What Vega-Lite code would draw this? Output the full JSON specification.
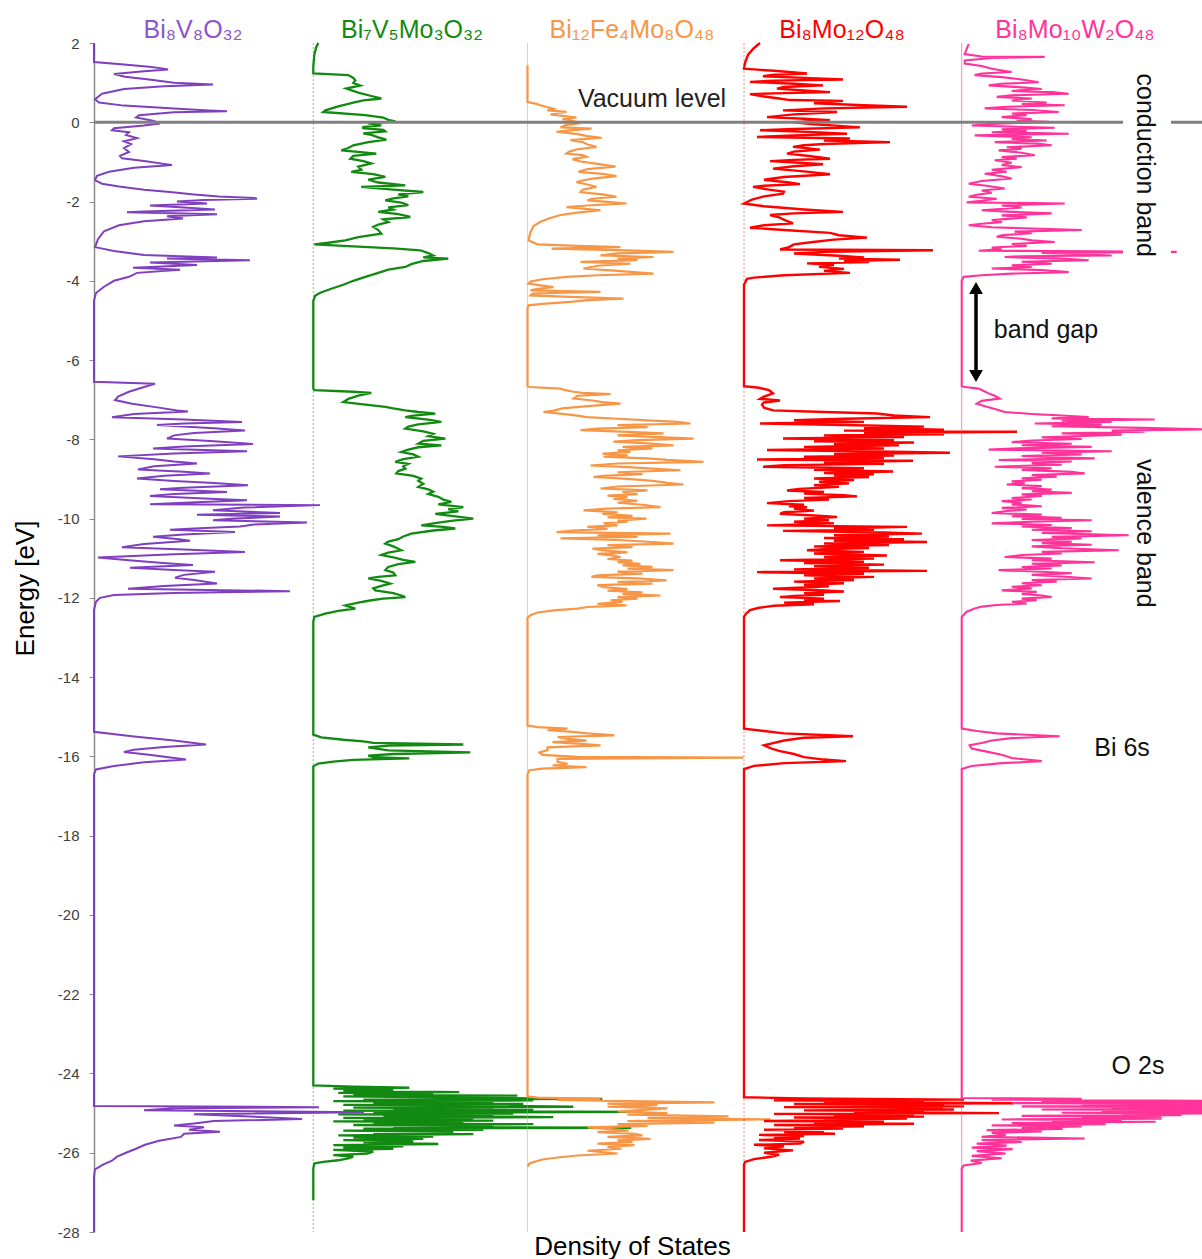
{
  "$schema": "https://vega.github.io/schema/vega-lite/v6.json",
  "width": 1108,
  "height": 1189,
  "autosize": {"type": "none"},
  "padding": {"left": 94, "top": 43, "right": 0, "bottom": 27},
  "background": "white",
  "config": {
    "view": {"stroke": null},
    "font": "Liberation Sans",
    "text": {"font": "Liberation Sans"}
  },
  "datasets": {
    "bi8v8o32": [
      {"e": 2.0, "d": 0}, {"e": 1.52, "d": 0}, {"e": 1.46, "d": 3.0}, {"e": 1.40, "d": 5.5}, {"e": 1.36, "d": 6.8}, {"e": 1.33, "d": 7.4}, {"e": 1.29, "d": 5.0}, {"e": 1.22, "d": 2.0}, {"e": 1.15, "d": 3.1}, {"e": 1.08, "d": 5.5}, {"e": 1.0, "d": 8.0}, {"e": 0.95, "d": 11.9}, {"e": 0.91, "d": 7.0}, {"e": 0.84, "d": 3.0}, {"e": 0.72, "d": 0.8}, {"e": 0.58, "d": 0.1}, {"e": 0.5, "d": 0.5}, {"e": 0.42, "d": 3.0}, {"e": 0.35, "d": 8.0}, {"e": 0.30, "d": 11.5}, {"e": 0.28, "d": 13.3}, {"e": 0.25, "d": 8.0}, {"e": 0.18, "d": 4.5}, {"e": 0.12, "d": 4.2}, {"e": 0.08, "d": 5.0}, {"e": 0.03, "d": 6.0}, {"e": -0.03, "d": 6.6}, {"e": -0.08, "d": 5.0}, {"e": -0.15, "d": 2.0}, {"e": -0.2, "d": 1.8}, {"e": -0.25, "d": 3.5}, {"e": -0.32, "d": 3.2}, {"e": -0.4, "d": 4.3}, {"e": -0.48, "d": 3.0}, {"e": -0.55, "d": 3.7}, {"e": -0.65, "d": 3.0}, {"e": -0.75, "d": 3.5}, {"e": -0.85, "d": 2.6}, {"e": -0.91, "d": 2.8}, {"e": -0.98, "d": 5.0}, {"e": -1.05, "d": 7.0}, {"e": -1.08, "d": 7.8}, {"e": -1.15, "d": 4.0}, {"e": -1.25, "d": 1.5}, {"e": -1.35, "d": 0.3}, {"e": -1.46, "d": 0.1}, {"e": -1.55, "d": 0.8}, {"e": -1.62, "d": 2.5}, {"e": -1.7, "d": 5.0}, {"e": -1.76, "d": 7.6}, {"e": -1.82, "d": 10.0}, {"e": -1.87, "d": 12.5}, {"e": -1.91, "d": 16.0}, {"e": -1.93, "d": 16.3}, {"e": -1.96, "d": 11.0}, {"e": -2.0, "d": 8.3}, {"e": -2.05, "d": 11.3}, {"e": -2.1, "d": 5.6}, {"e": -2.15, "d": 9.0}, {"e": -2.2, "d": 12.1}, {"e": -2.25, "d": 5.0}, {"e": -2.27, "d": 3.3}, {"e": -2.32, "d": 12.3}, {"e": -2.37, "d": 7.3}, {"e": -2.43, "d": 8.9}, {"e": -2.5, "d": 5.0}, {"e": -2.6, "d": 2.5}, {"e": -2.75, "d": 1.0}, {"e": -2.95, "d": 0.4}, {"e": -3.15, "d": 0.1}, {"e": -3.25, "d": 2.0}, {"e": -3.35, "d": 5.0}, {"e": -3.41, "d": 12.3}, {"e": -3.44, "d": 7.3}, {"e": -3.48, "d": 15.6}, {"e": -3.54, "d": 5.6}, {"e": -3.6, "d": 10.3}, {"e": -3.67, "d": 3.9}, {"e": -3.72, "d": 8.6}, {"e": -3.8, "d": 4.3}, {"e": -3.9, "d": 3.5}, {"e": -4.0, "d": 2.0}, {"e": -4.15, "d": 1.0}, {"e": -4.31, "d": 0.2}, {"e": -4.5, "d": 0},
      {"e": -6.55, "d": 0}, {"e": -6.6, "d": 6.1}, {"e": -6.68, "d": 5.0}, {"e": -6.8, "d": 3.5}, {"e": -6.92, "d": 2.4}, {"e": -7.01, "d": 2.1}, {"e": -7.1, "d": 3.8}, {"e": -7.2, "d": 6.5}, {"e": -7.27, "d": 8.3}, {"e": -7.3, "d": 9.4}, {"e": -7.36, "d": 4.0}, {"e": -7.44, "d": 1.8}, {"e": -7.5, "d": 9.0}, {"e": -7.56, "d": 14.8}, {"e": -7.6, "d": 9.0}, {"e": -7.64, "d": 6.3}, {"e": -7.72, "d": 12.0}, {"e": -7.78, "d": 15.1}, {"e": -7.84, "d": 10.0}, {"e": -7.9, "d": 8.0}, {"e": -7.98, "d": 7.3}, {"e": -8.05, "d": 12.0}, {"e": -8.12, "d": 15.9}, {"e": -8.18, "d": 9.0}, {"e": -8.23, "d": 5.9}, {"e": -8.3, "d": 15.3}, {"e": -8.36, "d": 8.0}, {"e": -8.43, "d": 2.4}, {"e": -8.5, "d": 6.0}, {"e": -8.56, "d": 8.0}, {"e": -8.61, "d": 10.3}, {"e": -8.68, "d": 6.0}, {"e": -8.76, "d": 4.4}, {"e": -8.82, "d": 9.0}, {"e": -8.86, "d": 11.6}, {"e": -8.92, "d": 7.0}, {"e": -8.99, "d": 4.3}, {"e": -9.05, "d": 8.0}, {"e": -9.1, "d": 12.0}, {"e": -9.16, "d": 15.4}, {"e": -9.22, "d": 9.0}, {"e": -9.26, "d": 6.6}, {"e": -9.33, "d": 13.3}, {"e": -9.38, "d": 8.0}, {"e": -9.43, "d": 5.6}, {"e": -9.49, "d": 11.0}, {"e": -9.54, "d": 15.3}, {"e": -9.6, "d": 9.0}, {"e": -9.64, "d": 5.6}, {"e": -9.66, "d": 22.6}, {"e": -9.72, "d": 15.0}, {"e": -9.79, "d": 11.9}, {"e": -9.86, "d": 18.6}, {"e": -9.9, "d": 10.3}, {"e": -9.95, "d": 18.6}, {"e": -10.0, "d": 14.0}, {"e": -10.04, "d": 11.9}, {"e": -10.1, "d": 21.3}, {"e": -10.15, "d": 16.0}, {"e": -10.2, "d": 14.6}, {"e": -10.25, "d": 10.0}, {"e": -10.28, "d": 7.6}, {"e": -10.34, "d": 14.1}, {"e": -10.4, "d": 9.0}, {"e": -10.46, "d": 5.9}, {"e": -10.52, "d": 8.5}, {"e": -10.56, "d": 9.6}, {"e": -10.64, "d": 5.0}, {"e": -10.72, "d": 2.8}, {"e": -10.78, "d": 9.0}, {"e": -10.84, "d": 15.1}, {"e": -10.9, "d": 8.0}, {"e": -10.98, "d": 0.4}, {"e": -11.05, "d": 3.5}, {"e": -11.12, "d": 6.9}, {"e": -11.17, "d": 9.9}, {"e": -11.24, "d": 3.6}, {"e": -11.3, "d": 8.0}, {"e": -11.34, "d": 12.1}, {"e": -11.42, "d": 9.0}, {"e": -11.49, "d": 8.1}, {"e": -11.55, "d": 10.0}, {"e": -11.64, "d": 12.3}, {"e": -11.7, "d": 7.0}, {"e": -11.77, "d": 3.4}, {"e": -11.83, "d": 19.6}, {"e": -11.88, "d": 8.0}, {"e": -11.93, "d": 2.0}, {"e": -12.0, "d": 0.6}, {"e": -12.1, "d": 0.2}, {"e": -12.3, "d": 0},
      {"e": -15.38, "d": 0}, {"e": -15.5, "d": 4.0}, {"e": -15.6, "d": 8.0}, {"e": -15.7, "d": 11.2}, {"e": -15.76, "d": 7.0}, {"e": -15.83, "d": 4.0}, {"e": -15.89, "d": 3.0}, {"e": -15.96, "d": 5.5}, {"e": -16.08, "d": 9.2}, {"e": -16.15, "d": 5.0}, {"e": -16.24, "d": 2.0}, {"e": -16.33, "d": 0.2}, {"e": -16.45, "d": 0},
      {"e": -24.82, "d": 0}, {"e": -24.85, "d": 22.5}, {"e": -24.88, "d": 8.0}, {"e": -24.93, "d": 5.0}, {"e": -24.98, "d": 27.0}, {"e": -25.03, "d": 10.0}, {"e": -25.08, "d": 15.0}, {"e": -25.15, "d": 20.8}, {"e": -25.2, "d": 12.0}, {"e": -25.26, "d": 10.0}, {"e": -25.31, "d": 8.0}, {"e": -25.36, "d": 11.0}, {"e": -25.42, "d": 9.5}, {"e": -25.47, "d": 12.6}, {"e": -25.52, "d": 9.0}, {"e": -25.6, "d": 8.7}, {"e": -25.7, "d": 6.5}, {"e": -25.8, "d": 5.1}, {"e": -25.9, "d": 4.2}, {"e": -26.0, "d": 3.2}, {"e": -26.1, "d": 2.3}, {"e": -26.2, "d": 1.8}, {"e": -26.3, "d": 0.9}, {"e": -26.42, "d": 0.1}, {"e": -26.6, "d": 0}, {"e": -28, "d": 0}
    ],
    "bi7v5mo3o32": [
      {"e": 2.0, "d": 0.5}, {"e": 1.9, "d": 0.3}, {"e": 1.7, "d": 0.1}, {"e": 1.4, "d": 0}, {"e": 1.23, "d": 0}, {"e": 1.19, "d": 3.5}, {"e": 1.12, "d": 4.0}, {"e": 1.06, "d": 4.2}, {"e": 0.99, "d": 4.0}, {"e": 0.93, "d": 4.7}, {"e": 0.85, "d": 3.3}, {"e": 0.75, "d": 4.5}, {"e": 0.65, "d": 6.0}, {"e": 0.6, "d": 6.8}, {"e": 0.55, "d": 5.0}, {"e": 0.51, "d": 4.2}, {"e": 0.4, "d": 2.5}, {"e": 0.3, "d": 1.2}, {"e": 0.26, "d": 1.0}, {"e": 0.18, "d": 5.2}, {"e": 0.12, "d": 7.0}, {"e": 0.06, "d": 7.5}, {"e": 0.02, "d": 8.2}, {"e": -0.03, "d": 5.5}, {"e": -0.08, "d": 6.8}, {"e": -0.12, "d": 5.0}, {"e": -0.15, "d": 5.0}, {"e": -0.19, "d": 7.0}, {"e": -0.23, "d": 7.2}, {"e": -0.28, "d": 5.0}, {"e": -0.32, "d": 5.8}, {"e": -0.38, "d": 6.5}, {"e": -0.44, "d": 7.3}, {"e": -0.5, "d": 5.5}, {"e": -0.58, "d": 4.0}, {"e": -0.65, "d": 3.5}, {"e": -0.71, "d": 2.8}, {"e": -0.76, "d": 5.0}, {"e": -0.79, "d": 6.3}, {"e": -0.85, "d": 4.0}, {"e": -0.92, "d": 3.7}, {"e": -0.98, "d": 5.0}, {"e": -1.04, "d": 5.8}, {"e": -1.12, "d": 4.5}, {"e": -1.2, "d": 4.8}, {"e": -1.25, "d": 3.8}, {"e": -1.31, "d": 6.0}, {"e": -1.38, "d": 7.2}, {"e": -1.45, "d": 5.5}, {"e": -1.52, "d": 6.5}, {"e": -1.59, "d": 9.2}, {"e": -1.63, "d": 4.8}, {"e": -1.7, "d": 8.0}, {"e": -1.76, "d": 11.0}, {"e": -1.82, "d": 8.5}, {"e": -1.87, "d": 9.5}, {"e": -1.92, "d": 8.0}, {"e": -1.97, "d": 7.2}, {"e": -2.03, "d": 8.8}, {"e": -2.09, "d": 9.5}, {"e": -2.15, "d": 7.5}, {"e": -2.2, "d": 8.0}, {"e": -2.26, "d": 6.5}, {"e": -2.32, "d": 8.5}, {"e": -2.39, "d": 9.7}, {"e": -2.45, "d": 7.0}, {"e": -2.52, "d": 7.5}, {"e": -2.58, "d": 6.5}, {"e": -2.64, "d": 6.0}, {"e": -2.72, "d": 6.5}, {"e": -2.81, "d": 6.8}, {"e": -2.9, "d": 4.5}, {"e": -2.98, "d": 3.2}, {"e": -3.04, "d": 1.5}, {"e": -3.08, "d": 0.1}, {"e": -3.12, "d": 3.0}, {"e": -3.18, "d": 8.0}, {"e": -3.23, "d": 10.7}, {"e": -3.3, "d": 11.5}, {"e": -3.36, "d": 12.0}, {"e": -3.41, "d": 11.0}, {"e": -3.44, "d": 13.5}, {"e": -3.5, "d": 11.0}, {"e": -3.58, "d": 9.8}, {"e": -3.65, "d": 9.2}, {"e": -3.72, "d": 7.5}, {"e": -3.8, "d": 6.5}, {"e": -3.9, "d": 5.2}, {"e": -4.0, "d": 4.0}, {"e": -4.1, "d": 3.0}, {"e": -4.2, "d": 1.8}, {"e": -4.3, "d": 0.7}, {"e": -4.37, "d": 0.2}, {"e": -4.5, "d": 0},
      {"e": -6.72, "d": 0}, {"e": -6.76, "d": 0.1}, {"e": -6.8, "d": 4.0}, {"e": -6.83, "d": 5.8}, {"e": -6.9, "d": 4.5}, {"e": -6.98, "d": 3.5}, {"e": -7.06, "d": 3.0}, {"e": -7.12, "d": 5.0}, {"e": -7.18, "d": 7.2}, {"e": -7.22, "d": 8.0}, {"e": -7.27, "d": 9.2}, {"e": -7.31, "d": 10.5}, {"e": -7.35, "d": 12.2}, {"e": -7.4, "d": 10.0}, {"e": -7.44, "d": 9.2}, {"e": -7.5, "d": 11.5}, {"e": -7.56, "d": 12.8}, {"e": -7.62, "d": 10.5}, {"e": -7.68, "d": 9.5}, {"e": -7.73, "d": 9.2}, {"e": -7.8, "d": 11.0}, {"e": -7.86, "d": 12.0}, {"e": -7.92, "d": 11.5}, {"e": -7.98, "d": 13.2}, {"e": -8.04, "d": 11.0}, {"e": -8.11, "d": 10.5}, {"e": -8.15, "d": 12.8}, {"e": -8.2, "d": 10.5}, {"e": -8.26, "d": 9.5}, {"e": -8.32, "d": 8.8}, {"e": -8.38, "d": 10.0}, {"e": -8.44, "d": 10.5}, {"e": -8.5, "d": 9.0}, {"e": -8.57, "d": 8.2}, {"e": -8.62, "d": 9.5}, {"e": -8.68, "d": 9.0}, {"e": -8.74, "d": 9.2}, {"e": -8.8, "d": 8.5}, {"e": -8.86, "d": 8.3}, {"e": -8.92, "d": 10.0}, {"e": -8.99, "d": 10.8}, {"e": -9.05, "d": 10.5}, {"e": -9.12, "d": 11.0}, {"e": -9.2, "d": 10.5}, {"e": -9.26, "d": 11.5}, {"e": -9.32, "d": 12.0}, {"e": -9.38, "d": 11.5}, {"e": -9.45, "d": 12.5}, {"e": -9.52, "d": 13.0}, {"e": -9.58, "d": 13.8}, {"e": -9.64, "d": 12.5}, {"e": -9.71, "d": 15.0}, {"e": -9.76, "d": 13.5}, {"e": -9.82, "d": 14.5}, {"e": -9.88, "d": 12.2}, {"e": -9.94, "d": 14.0}, {"e": -10.0, "d": 16.0}, {"e": -10.05, "d": 14.0}, {"e": -10.1, "d": 12.5}, {"e": -10.17, "d": 10.8}, {"e": -10.21, "d": 13.0}, {"e": -10.25, "d": 14.2}, {"e": -10.3, "d": 12.0}, {"e": -10.38, "d": 9.8}, {"e": -10.45, "d": 9.0}, {"e": -10.52, "d": 8.5}, {"e": -10.58, "d": 7.5}, {"e": -10.63, "d": 7.2}, {"e": -10.7, "d": 8.0}, {"e": -10.76, "d": 8.5}, {"e": -10.8, "d": 8.8}, {"e": -10.86, "d": 7.5}, {"e": -10.92, "d": 6.8}, {"e": -10.98, "d": 8.0}, {"e": -11.04, "d": 9.0}, {"e": -11.09, "d": 10.2}, {"e": -11.15, "d": 8.5}, {"e": -11.22, "d": 7.5}, {"e": -11.3, "d": 7.2}, {"e": -11.36, "d": 8.0}, {"e": -11.43, "d": 8.2}, {"e": -11.47, "d": 6.5}, {"e": -11.51, "d": 5.5}, {"e": -11.57, "d": 6.8}, {"e": -11.64, "d": 7.7}, {"e": -11.7, "d": 6.8}, {"e": -11.76, "d": 6.0}, {"e": -11.81, "d": 6.2}, {"e": -11.88, "d": 8.0}, {"e": -11.94, "d": 8.8}, {"e": -11.98, "d": 9.2}, {"e": -12.02, "d": 7.0}, {"e": -12.06, "d": 5.8}, {"e": -12.12, "d": 4.5}, {"e": -12.19, "d": 3.2}, {"e": -12.27, "d": 4.2}, {"e": -12.33, "d": 2.5}, {"e": -12.4, "d": 1.2}, {"e": -12.48, "d": 0.1}, {"e": -12.6, "d": 0},
      {"e": -15.45, "d": 0}, {"e": -15.52, "d": 0.8}, {"e": -15.58, "d": 3.0}, {"e": -15.62, "d": 5.0}, {"e": -15.66, "d": 6.0}, {"e": -15.7, "d": 15.0}, {"e": -15.73, "d": 7.5}, {"e": -15.77, "d": 5.5}, {"e": -15.81, "d": 6.5}, {"e": -15.85, "d": 7.5}, {"e": -15.9, "d": 15.7}, {"e": -15.94, "d": 8.0}, {"e": -15.98, "d": 5.5}, {"e": -16.02, "d": 6.0}, {"e": -16.05, "d": 9.6}, {"e": -16.09, "d": 4.0}, {"e": -16.13, "d": 2.0}, {"e": -16.18, "d": 0.5}, {"e": -16.25, "d": 0},
      {"e": -24.3, "d": 0}, {"e": -24.33, "d": 4.0}, {"e": -24.36, "d": 9.6}, {"e": -24.38, "d": 2.0}, {"e": -24.41, "d": 8.0}, {"e": -24.44, "d": 3.0}, {"e": -24.47, "d": 14.6}, {"e": -24.49, "d": 2.5}, {"e": -24.52, "d": 12.0}, {"e": -24.54, "d": 4.0}, {"e": -24.56, "d": 20.4}, {"e": -24.58, "d": 3.0}, {"e": -24.61, "d": 15.0}, {"e": -24.64, "d": 28.9}, {"e": -24.66, "d": 5.0}, {"e": -24.68, "d": 22.0}, {"e": -24.7, "d": 2.0}, {"e": -24.72, "d": 18.0}, {"e": -24.74, "d": 6.0}, {"e": -24.77, "d": 21.0}, {"e": -24.79, "d": 3.0}, {"e": -24.81, "d": 17.0}, {"e": -24.84, "d": 26.0}, {"e": -24.86, "d": 4.0}, {"e": -24.88, "d": 18.0}, {"e": -24.9, "d": 8.0}, {"e": -24.92, "d": 22.0}, {"e": -24.94, "d": 3.0}, {"e": -24.97, "d": 32.5}, {"e": -24.99, "d": 6.0}, {"e": -25.01, "d": 20.0}, {"e": -25.03, "d": 2.5}, {"e": -25.05, "d": 18.0}, {"e": -25.07, "d": 7.0}, {"e": -25.1, "d": 24.0}, {"e": -25.12, "d": 3.0}, {"e": -25.14, "d": 16.0}, {"e": -25.16, "d": 5.0}, {"e": -25.19, "d": 18.0}, {"e": -25.21, "d": 2.0}, {"e": -25.23, "d": 15.0}, {"e": -25.26, "d": 6.0}, {"e": -25.28, "d": 22.0}, {"e": -25.3, "d": 4.0}, {"e": -25.33, "d": 18.0}, {"e": -25.35, "d": 8.0}, {"e": -25.37, "d": 31.8}, {"e": -25.39, "d": 5.0}, {"e": -25.42, "d": 17.0}, {"e": -25.44, "d": 3.0}, {"e": -25.47, "d": 14.0}, {"e": -25.5, "d": 6.0}, {"e": -25.53, "d": 16.0}, {"e": -25.56, "d": 2.5}, {"e": -25.59, "d": 12.0}, {"e": -25.62, "d": 4.0}, {"e": -25.65, "d": 11.0}, {"e": -25.68, "d": 3.0}, {"e": -25.71, "d": 10.0}, {"e": -25.74, "d": 5.0}, {"e": -25.78, "d": 12.5}, {"e": -25.81, "d": 2.0}, {"e": -25.84, "d": 9.0}, {"e": -25.87, "d": 3.0}, {"e": -25.9, "d": 8.0}, {"e": -25.93, "d": 2.0}, {"e": -25.97, "d": 6.0}, {"e": -26.02, "d": 5.4}, {"e": -26.06, "d": 2.0}, {"e": -26.1, "d": 4.0}, {"e": -26.14, "d": 3.5}, {"e": -26.19, "d": 2.5}, {"e": -26.23, "d": 1.0}, {"e": -26.27, "d": 0.1}, {"e": -26.4, "d": 0}, {"e": -27.2, "d": 0}
    ],
    "bi12fe4mo8o48": [
      {"e": 1.44, "d": 0}, {"e": 0.51, "d": 0}, {"e": 0.47, "d": 0.8}, {"e": 0.43, "d": 1.3}, {"e": 0.38, "d": 2.0}, {"e": 0.34, "d": 2.6}, {"e": 0.3, "d": 2.0}, {"e": 0.26, "d": 3.9}, {"e": 0.2, "d": 2.3}, {"e": 0.16, "d": 3.5}, {"e": 0.12, "d": 4.9}, {"e": 0.08, "d": 3.5}, {"e": 0.05, "d": 4.3}, {"e": -0.02, "d": 5.3}, {"e": -0.07, "d": 3.8}, {"e": -0.13, "d": 3.3}, {"e": -0.16, "d": 6.4}, {"e": -0.2, "d": 4.5}, {"e": -0.24, "d": 2.9}, {"e": -0.3, "d": 5.0}, {"e": -0.35, "d": 6.0}, {"e": -0.39, "d": 7.4}, {"e": -0.45, "d": 4.3}, {"e": -0.5, "d": 5.5}, {"e": -0.56, "d": 6.0}, {"e": -0.62, "d": 6.9}, {"e": -0.68, "d": 5.0}, {"e": -0.74, "d": 4.2}, {"e": -0.79, "d": 3.9}, {"e": -0.83, "d": 5.5}, {"e": -0.87, "d": 5.9}, {"e": -0.93, "d": 4.5}, {"e": -0.99, "d": 5.3}, {"e": -1.05, "d": 7.0}, {"e": -1.12, "d": 8.8}, {"e": -1.18, "d": 6.0}, {"e": -1.25, "d": 5.1}, {"e": -1.3, "d": 7.5}, {"e": -1.36, "d": 8.9}, {"e": -1.42, "d": 6.5}, {"e": -1.47, "d": 5.5}, {"e": -1.51, "d": 4.9}, {"e": -1.57, "d": 6.0}, {"e": -1.63, "d": 6.9}, {"e": -1.7, "d": 5.5}, {"e": -1.76, "d": 5.3}, {"e": -1.82, "d": 7.5}, {"e": -1.88, "d": 8.9}, {"e": -1.93, "d": 6.5}, {"e": -1.97, "d": 6.0}, {"e": -2.01, "d": 8.0}, {"e": -2.05, "d": 9.9}, {"e": -2.1, "d": 6.0}, {"e": -2.14, "d": 3.9}, {"e": -2.18, "d": 5.5}, {"e": -2.22, "d": 7.3}, {"e": -2.28, "d": 5.0}, {"e": -2.34, "d": 3.3}, {"e": -2.42, "d": 2.2}, {"e": -2.51, "d": 1.3}, {"e": -2.62, "d": 0.6}, {"e": -2.77, "d": 0.3}, {"e": -2.98, "d": 0.1}, {"e": -3.08, "d": 1.0}, {"e": -3.12, "d": 5.0}, {"e": -3.15, "d": 9.3}, {"e": -3.19, "d": 2.4}, {"e": -3.23, "d": 10.0}, {"e": -3.27, "d": 14.6}, {"e": -3.31, "d": 9.0}, {"e": -3.36, "d": 7.3}, {"e": -3.4, "d": 12.6}, {"e": -3.44, "d": 9.0}, {"e": -3.48, "d": 11.0}, {"e": -3.52, "d": 5.3}, {"e": -3.57, "d": 10.3}, {"e": -3.62, "d": 7.0}, {"e": -3.69, "d": 5.6}, {"e": -3.75, "d": 9.0}, {"e": -3.82, "d": 12.6}, {"e": -3.86, "d": 7.0}, {"e": -3.9, "d": 3.9}, {"e": -3.96, "d": 1.5}, {"e": -4.02, "d": 0.3}, {"e": -4.07, "d": 0.1}, {"e": -4.12, "d": 1.5}, {"e": -4.16, "d": 2.6}, {"e": -4.2, "d": 1.0}, {"e": -4.24, "d": 0.3}, {"e": -4.28, "d": 7.3}, {"e": -4.32, "d": 0.5}, {"e": -4.37, "d": 0.3}, {"e": -4.41, "d": 5.0}, {"e": -4.45, "d": 9.6}, {"e": -4.49, "d": 6.0}, {"e": -4.53, "d": 4.3}, {"e": -4.58, "d": 1.5}, {"e": -4.62, "d": 0.1}, {"e": -4.7, "d": 0},
      {"e": -6.66, "d": 0}, {"e": -6.68, "d": 0.2}, {"e": -6.72, "d": 3.3}, {"e": -6.76, "d": 3.8}, {"e": -6.8, "d": 4.6}, {"e": -6.83, "d": 5.5}, {"e": -6.86, "d": 8.3}, {"e": -6.9, "d": 5.0}, {"e": -6.97, "d": 4.6}, {"e": -7.02, "d": 6.5}, {"e": -7.06, "d": 7.5}, {"e": -7.1, "d": 9.3}, {"e": -7.16, "d": 6.0}, {"e": -7.22, "d": 3.5}, {"e": -7.28, "d": 2.5}, {"e": -7.31, "d": 1.6}, {"e": -7.36, "d": 3.5}, {"e": -7.4, "d": 5.0}, {"e": -7.44, "d": 5.9}, {"e": -7.48, "d": 9.0}, {"e": -7.52, "d": 12.0}, {"e": -7.56, "d": 15.0}, {"e": -7.6, "d": 16.3}, {"e": -7.64, "d": 9.0}, {"e": -7.69, "d": 12.0}, {"e": -7.73, "d": 7.0}, {"e": -7.77, "d": 5.3}, {"e": -7.81, "d": 10.0}, {"e": -7.85, "d": 13.6}, {"e": -7.9, "d": 9.0}, {"e": -7.94, "d": 12.5}, {"e": -7.98, "d": 16.6}, {"e": -8.02, "d": 11.0}, {"e": -8.06, "d": 8.6}, {"e": -8.1, "d": 12.0}, {"e": -8.15, "d": 14.6}, {"e": -8.19, "d": 9.5}, {"e": -8.23, "d": 12.5}, {"e": -8.28, "d": 9.0}, {"e": -8.32, "d": 10.3}, {"e": -8.36, "d": 7.5}, {"e": -8.4, "d": 10.0}, {"e": -8.44, "d": 7.6}, {"e": -8.48, "d": 12.0}, {"e": -8.52, "d": 14.0}, {"e": -8.57, "d": 17.6}, {"e": -8.61, "d": 9.0}, {"e": -8.66, "d": 6.3}, {"e": -8.7, "d": 10.0}, {"e": -8.74, "d": 12.5}, {"e": -8.78, "d": 15.3}, {"e": -8.83, "d": 9.0}, {"e": -8.88, "d": 11.5}, {"e": -8.92, "d": 7.5}, {"e": -8.95, "d": 6.6}, {"e": -9.0, "d": 10.0}, {"e": -9.05, "d": 12.5}, {"e": -9.1, "d": 14.0}, {"e": -9.14, "d": 15.6}, {"e": -9.19, "d": 9.0}, {"e": -9.24, "d": 7.3}, {"e": -9.29, "d": 12.0}, {"e": -9.33, "d": 9.5}, {"e": -9.38, "d": 11.0}, {"e": -9.42, "d": 8.0}, {"e": -9.46, "d": 10.0}, {"e": -9.5, "d": 8.6}, {"e": -9.55, "d": 11.0}, {"e": -9.6, "d": 9.0}, {"e": -9.65, "d": 11.5}, {"e": -9.71, "d": 13.3}, {"e": -9.75, "d": 8.0}, {"e": -9.79, "d": 5.6}, {"e": -9.84, "d": 9.0}, {"e": -9.88, "d": 7.5}, {"e": -9.93, "d": 10.5}, {"e": -9.97, "d": 8.0}, {"e": -10.0, "d": 11.9}, {"e": -10.05, "d": 9.0}, {"e": -10.08, "d": 10.0}, {"e": -10.12, "d": 7.6}, {"e": -10.17, "d": 9.0}, {"e": -10.21, "d": 6.0}, {"e": -10.26, "d": 8.0}, {"e": -10.3, "d": 4.5}, {"e": -10.34, "d": 2.9}, {"e": -10.38, "d": 14.3}, {"e": -10.42, "d": 7.0}, {"e": -10.46, "d": 11.0}, {"e": -10.5, "d": 3.3}, {"e": -10.54, "d": 9.0}, {"e": -10.59, "d": 12.5}, {"e": -10.63, "d": 14.6}, {"e": -10.67, "d": 8.0}, {"e": -10.72, "d": 10.5}, {"e": -10.76, "d": 6.5}, {"e": -10.8, "d": 7.6}, {"e": -10.85, "d": 10.0}, {"e": -10.89, "d": 7.0}, {"e": -10.93, "d": 8.5}, {"e": -10.97, "d": 9.3}, {"e": -11.02, "d": 8.0}, {"e": -11.06, "d": 10.5}, {"e": -11.1, "d": 9.0}, {"e": -11.14, "d": 11.3}, {"e": -11.18, "d": 9.5}, {"e": -11.22, "d": 12.5}, {"e": -11.26, "d": 10.0}, {"e": -11.3, "d": 14.6}, {"e": -11.34, "d": 9.0}, {"e": -11.39, "d": 11.5}, {"e": -11.43, "d": 7.0}, {"e": -11.47, "d": 6.4}, {"e": -11.51, "d": 11.0}, {"e": -11.56, "d": 13.9}, {"e": -11.6, "d": 9.0}, {"e": -11.64, "d": 12.5}, {"e": -11.68, "d": 7.0}, {"e": -11.73, "d": 7.6}, {"e": -11.78, "d": 10.0}, {"e": -11.82, "d": 8.0}, {"e": -11.86, "d": 11.5}, {"e": -11.9, "d": 9.5}, {"e": -11.94, "d": 13.3}, {"e": -11.98, "d": 9.0}, {"e": -12.02, "d": 11.0}, {"e": -12.06, "d": 8.3}, {"e": -12.1, "d": 9.5}, {"e": -12.15, "d": 7.0}, {"e": -12.19, "d": 9.9}, {"e": -12.23, "d": 6.0}, {"e": -12.27, "d": 5.0}, {"e": -12.31, "d": 2.9}, {"e": -12.37, "d": 1.0}, {"e": -12.44, "d": 0.3}, {"e": -12.5, "d": 0},
      {"e": -15.22, "d": 0}, {"e": -15.26, "d": 1.0}, {"e": -15.3, "d": 4.0}, {"e": -15.34, "d": 2.0}, {"e": -15.38, "d": 4.5}, {"e": -15.42, "d": 6.0}, {"e": -15.47, "d": 8.7}, {"e": -15.51, "d": 3.0}, {"e": -15.56, "d": 4.0}, {"e": -15.6, "d": 5.9}, {"e": -15.64, "d": 2.5}, {"e": -15.68, "d": 5.0}, {"e": -15.72, "d": 7.3}, {"e": -15.77, "d": 2.0}, {"e": -15.84, "d": 2.0}, {"e": -15.9, "d": 1.2}, {"e": -15.96, "d": 1.5}, {"e": -16.01, "d": 5.0}, {"e": -16.03, "d": 21.6}, {"e": -16.06, "d": 3.0}, {"e": -16.1, "d": 3.0}, {"e": -16.14, "d": 3.0}, {"e": -16.19, "d": 4.0}, {"e": -16.23, "d": 2.5}, {"e": -16.27, "d": 5.9}, {"e": -16.31, "d": 1.5}, {"e": -16.35, "d": 0.2}, {"e": -16.45, "d": 0},
      {"e": -24.58, "d": 0}, {"e": -24.61, "d": 1.0}, {"e": -24.64, "d": 7.3}, {"e": -24.67, "d": 3.0}, {"e": -24.7, "d": 10.0}, {"e": -24.73, "d": 18.7}, {"e": -24.76, "d": 8.0}, {"e": -24.8, "d": 13.0}, {"e": -24.84, "d": 8.0}, {"e": -24.88, "d": 14.0}, {"e": -24.92, "d": 11.6}, {"e": -24.96, "d": 9.0}, {"e": -25.0, "d": 14.0}, {"e": -25.04, "d": 10.0}, {"e": -25.08, "d": 20.1}, {"e": -25.12, "d": 12.0}, {"e": -25.16, "d": 24.3}, {"e": -25.2, "d": 10.0}, {"e": -25.24, "d": 18.7}, {"e": -25.28, "d": 9.0}, {"e": -25.32, "d": 12.0}, {"e": -25.36, "d": 6.0}, {"e": -25.4, "d": 8.0}, {"e": -25.44, "d": 10.1}, {"e": -25.48, "d": 7.0}, {"e": -25.52, "d": 10.5}, {"e": -25.56, "d": 11.5}, {"e": -25.6, "d": 8.0}, {"e": -25.65, "d": 12.3}, {"e": -25.69, "d": 9.0}, {"e": -25.73, "d": 10.5}, {"e": -25.77, "d": 7.0}, {"e": -25.81, "d": 10.7}, {"e": -25.85, "d": 8.0}, {"e": -25.9, "d": 9.4}, {"e": -25.95, "d": 6.0}, {"e": -26.02, "d": 9.0}, {"e": -26.07, "d": 5.0}, {"e": -26.12, "d": 3.0}, {"e": -26.17, "d": 1.5}, {"e": -26.22, "d": 0.8}, {"e": -26.27, "d": 0.2}, {"e": -26.35, "d": 0}
    ],
    "bi8mo12o48": [
      {"e": 2.0, "d": 1.6}, {"e": 1.85, "d": 0.9}, {"e": 1.7, "d": 0.4}, {"e": 1.5, "d": 0.1}, {"e": 1.35, "d": 0}, {"e": 1.3, "d": 3.0}, {"e": 1.23, "d": 6.3}, {"e": 1.2, "d": 3.0}, {"e": 1.16, "d": 1.9}, {"e": 1.12, "d": 6.0}, {"e": 1.08, "d": 9.9}, {"e": 1.05, "d": 3.0}, {"e": 1.02, "d": 0.6}, {"e": 0.97, "d": 5.0}, {"e": 0.93, "d": 7.9}, {"e": 0.89, "d": 4.0}, {"e": 0.85, "d": 3.3}, {"e": 0.8, "d": 6.0}, {"e": 0.76, "d": 8.6}, {"e": 0.73, "d": 3.0}, {"e": 0.71, "d": 0.6}, {"e": 0.65, "d": 2.0}, {"e": 0.6, "d": 3.5}, {"e": 0.56, "d": 4.6}, {"e": 0.54, "d": 9.9}, {"e": 0.48, "d": 7.0}, {"e": 0.43, "d": 12.0}, {"e": 0.39, "d": 16.3}, {"e": 0.35, "d": 8.0}, {"e": 0.3, "d": 3.9}, {"e": 0.26, "d": 9.3}, {"e": 0.2, "d": 5.0}, {"e": 0.13, "d": 2.3}, {"e": 0.09, "d": 6.0}, {"e": 0.05, "d": 8.6}, {"e": 0.0, "d": 5.0}, {"e": -0.05, "d": 7.0}, {"e": -0.09, "d": 9.5}, {"e": -0.13, "d": 11.6}, {"e": -0.17, "d": 5.0}, {"e": -0.2, "d": 1.6}, {"e": -0.25, "d": 7.0}, {"e": -0.29, "d": 10.3}, {"e": -0.33, "d": 5.0}, {"e": -0.37, "d": 1.3}, {"e": -0.41, "d": 10.6}, {"e": -0.46, "d": 8.0}, {"e": -0.5, "d": 14.6}, {"e": -0.55, "d": 8.0}, {"e": -0.58, "d": 6.0}, {"e": -0.62, "d": 4.9}, {"e": -0.66, "d": 6.5}, {"e": -0.69, "d": 7.6}, {"e": -0.74, "d": 5.0}, {"e": -0.79, "d": 4.3}, {"e": -0.85, "d": 6.5}, {"e": -0.92, "d": 8.6}, {"e": -0.95, "d": 5.0}, {"e": -0.98, "d": 2.6}, {"e": -1.02, "d": 5.5}, {"e": -1.06, "d": 7.9}, {"e": -1.11, "d": 5.0}, {"e": -1.17, "d": 2.9}, {"e": -1.24, "d": 6.0}, {"e": -1.31, "d": 8.6}, {"e": -1.38, "d": 4.0}, {"e": -1.45, "d": 2.0}, {"e": -1.52, "d": 4.5}, {"e": -1.56, "d": 5.6}, {"e": -1.6, "d": 2.0}, {"e": -1.63, "d": 0.9}, {"e": -1.7, "d": 2.5}, {"e": -1.75, "d": 4.0}, {"e": -1.8, "d": 3.9}, {"e": -1.87, "d": 2.0}, {"e": -1.95, "d": 0.8}, {"e": -2.05, "d": 0}, {"e": -2.12, "d": 2.0}, {"e": -2.2, "d": 6.0}, {"e": -2.26, "d": 9.9}, {"e": -2.3, "d": 5.0}, {"e": -2.34, "d": 2.6}, {"e": -2.4, "d": 3.5}, {"e": -2.48, "d": 4.2}, {"e": -2.55, "d": 4.9}, {"e": -2.6, "d": 2.0}, {"e": -2.66, "d": 0.6}, {"e": -2.72, "d": 4.0}, {"e": -2.79, "d": 8.6}, {"e": -2.85, "d": 9.5}, {"e": -2.91, "d": 12.3}, {"e": -2.96, "d": 9.0}, {"e": -3.02, "d": 6.9}, {"e": -3.08, "d": 5.0}, {"e": -3.15, "d": 4.5}, {"e": -3.21, "d": 3.6}, {"e": -3.23, "d": 18.9}, {"e": -3.27, "d": 8.0}, {"e": -3.31, "d": 5.0}, {"e": -3.36, "d": 9.0}, {"e": -3.41, "d": 12.0}, {"e": -3.44, "d": 9.5}, {"e": -3.47, "d": 15.6}, {"e": -3.5, "d": 10.0}, {"e": -3.53, "d": 12.5}, {"e": -3.56, "d": 6.3}, {"e": -3.6, "d": 9.0}, {"e": -3.65, "d": 7.5}, {"e": -3.7, "d": 10.0}, {"e": -3.75, "d": 8.0}, {"e": -3.8, "d": 10.6}, {"e": -3.86, "d": 4.0}, {"e": -3.92, "d": 1.0}, {"e": -3.95, "d": 0.3}, {"e": -4.1, "d": 0},
      {"e": -6.66, "d": 0}, {"e": -6.7, "d": 1.5}, {"e": -6.76, "d": 2.5}, {"e": -6.84, "d": 2.9}, {"e": -6.92, "d": 2.0}, {"e": -6.98, "d": 1.6}, {"e": -7.02, "d": 3.6}, {"e": -7.07, "d": 2.0}, {"e": -7.12, "d": 1.8}, {"e": -7.2, "d": 2.0}, {"e": -7.27, "d": 2.9}, {"e": -7.31, "d": 8.0}, {"e": -7.35, "d": 13.3}, {"e": -7.4, "d": 15.0}, {"e": -7.44, "d": 18.6}, {"e": -7.48, "d": 10.0}, {"e": -7.52, "d": 5.0}, {"e": -7.56, "d": 12.0}, {"e": -7.6, "d": 1.6}, {"e": -7.64, "d": 10.0}, {"e": -7.68, "d": 18.0}, {"e": -7.72, "d": 12.0}, {"e": -7.76, "d": 20.0}, {"e": -7.78, "d": 10.0}, {"e": -7.81, "d": 27.3}, {"e": -7.84, "d": 12.0}, {"e": -7.87, "d": 20.0}, {"e": -7.9, "d": 8.0}, {"e": -7.94, "d": 16.0}, {"e": -7.98, "d": 3.9}, {"e": -8.02, "d": 15.0}, {"e": -8.05, "d": 7.0}, {"e": -8.08, "d": 17.0}, {"e": -8.12, "d": 9.0}, {"e": -8.15, "d": 15.5}, {"e": -8.19, "d": 6.0}, {"e": -8.23, "d": 14.0}, {"e": -8.27, "d": 2.3}, {"e": -8.3, "d": 12.0}, {"e": -8.34, "d": 20.6}, {"e": -8.37, "d": 9.0}, {"e": -8.41, "d": 15.0}, {"e": -8.44, "d": 6.0}, {"e": -8.47, "d": 14.0}, {"e": -8.51, "d": 1.3}, {"e": -8.54, "d": 16.9}, {"e": -8.58, "d": 8.0}, {"e": -8.62, "d": 14.0}, {"e": -8.65, "d": 4.0}, {"e": -8.69, "d": 1.9}, {"e": -8.73, "d": 12.0}, {"e": -8.77, "d": 7.0}, {"e": -8.81, "d": 14.9}, {"e": -8.85, "d": 8.0}, {"e": -8.88, "d": 13.0}, {"e": -8.91, "d": 9.0}, {"e": -8.95, "d": 12.5}, {"e": -8.99, "d": 7.0}, {"e": -9.03, "d": 11.0}, {"e": -9.07, "d": 7.5}, {"e": -9.11, "d": 10.5}, {"e": -9.16, "d": 7.0}, {"e": -9.2, "d": 9.5}, {"e": -9.25, "d": 5.5}, {"e": -9.29, "d": 4.3}, {"e": -9.33, "d": 8.0}, {"e": -9.37, "d": 6.0}, {"e": -9.41, "d": 10.0}, {"e": -9.44, "d": 11.3}, {"e": -9.48, "d": 6.0}, {"e": -9.52, "d": 8.5}, {"e": -9.56, "d": 4.5}, {"e": -9.61, "d": 2.3}, {"e": -9.65, "d": 6.0}, {"e": -9.69, "d": 4.5}, {"e": -9.71, "d": 6.3}, {"e": -9.75, "d": 5.0}, {"e": -9.8, "d": 7.0}, {"e": -9.84, "d": 4.0}, {"e": -9.88, "d": 3.6}, {"e": -9.92, "d": 7.0}, {"e": -9.96, "d": 9.3}, {"e": -10.0, "d": 6.0}, {"e": -10.04, "d": 8.5}, {"e": -10.08, "d": 5.0}, {"e": -10.12, "d": 9.0}, {"e": -10.17, "d": 2.3}, {"e": -10.21, "d": 16.3}, {"e": -10.25, "d": 9.0}, {"e": -10.28, "d": 13.0}, {"e": -10.31, "d": 3.9}, {"e": -10.35, "d": 14.0}, {"e": -10.38, "d": 17.8}, {"e": -10.42, "d": 9.0}, {"e": -10.45, "d": 14.5}, {"e": -10.49, "d": 8.0}, {"e": -10.52, "d": 16.0}, {"e": -10.56, "d": 9.0}, {"e": -10.59, "d": 18.3}, {"e": -10.63, "d": 8.0}, {"e": -10.67, "d": 14.5}, {"e": -10.7, "d": 7.0}, {"e": -10.74, "d": 12.5}, {"e": -10.77, "d": 8.0}, {"e": -10.8, "d": 6.3}, {"e": -10.84, "d": 12.0}, {"e": -10.88, "d": 7.0}, {"e": -10.93, "d": 14.3}, {"e": -10.97, "d": 8.0}, {"e": -11.01, "d": 13.0}, {"e": -11.05, "d": 3.6}, {"e": -11.09, "d": 12.0}, {"e": -11.12, "d": 6.0}, {"e": -11.16, "d": 14.0}, {"e": -11.2, "d": 7.0}, {"e": -11.24, "d": 12.5}, {"e": -11.28, "d": 5.0}, {"e": -11.32, "d": 18.3}, {"e": -11.35, "d": 1.3}, {"e": -11.39, "d": 12.0}, {"e": -11.43, "d": 6.0}, {"e": -11.47, "d": 13.0}, {"e": -11.51, "d": 7.0}, {"e": -11.55, "d": 11.0}, {"e": -11.59, "d": 5.0}, {"e": -11.63, "d": 10.0}, {"e": -11.67, "d": 6.0}, {"e": -11.71, "d": 8.5}, {"e": -11.77, "d": 2.9}, {"e": -11.8, "d": 7.0}, {"e": -11.84, "d": 10.0}, {"e": -11.88, "d": 6.0}, {"e": -11.92, "d": 8.0}, {"e": -11.95, "d": 5.0}, {"e": -11.98, "d": 3.6}, {"e": -12.02, "d": 8.0}, {"e": -12.05, "d": 6.0}, {"e": -12.08, "d": 9.6}, {"e": -12.12, "d": 4.0}, {"e": -12.16, "d": 7.0}, {"e": -12.2, "d": 3.0}, {"e": -12.25, "d": 1.5}, {"e": -12.31, "d": 0.6}, {"e": -12.4, "d": 0.2}, {"e": -12.48, "d": 0},
      {"e": -15.3, "d": 0}, {"e": -15.36, "d": 2.0}, {"e": -15.42, "d": 4.0}, {"e": -15.49, "d": 10.9}, {"e": -15.53, "d": 6.0}, {"e": -15.6, "d": 4.0}, {"e": -15.66, "d": 3.0}, {"e": -15.72, "d": 2.0}, {"e": -15.8, "d": 2.7}, {"e": -15.86, "d": 3.5}, {"e": -15.94, "d": 5.0}, {"e": -16.02, "d": 6.0}, {"e": -16.08, "d": 8.0}, {"e": -16.12, "d": 10.2}, {"e": -16.17, "d": 4.0}, {"e": -16.24, "d": 1.0}, {"e": -16.32, "d": 0},
      {"e": -24.6, "d": 0}, {"e": -24.63, "d": 6.0}, {"e": -24.66, "d": 22.0}, {"e": -24.68, "d": 3.0}, {"e": -24.7, "d": 18.0}, {"e": -24.72, "d": 8.0}, {"e": -24.75, "d": 27.0}, {"e": -24.77, "d": 5.0}, {"e": -24.79, "d": 20.0}, {"e": -24.81, "d": 10.0}, {"e": -24.83, "d": 22.0}, {"e": -24.85, "d": 4.0}, {"e": -24.87, "d": 19.9}, {"e": -24.89, "d": 12.0}, {"e": -24.91, "d": 21.0}, {"e": -24.93, "d": 6.0}, {"e": -24.95, "d": 18.0}, {"e": -24.97, "d": 11.0}, {"e": -25.0, "d": 25.5}, {"e": -25.02, "d": 3.0}, {"e": -25.04, "d": 17.0}, {"e": -25.06, "d": 9.0}, {"e": -25.09, "d": 18.0}, {"e": -25.11, "d": 5.0}, {"e": -25.14, "d": 16.3}, {"e": -25.16, "d": 8.0}, {"e": -25.18, "d": 12.0}, {"e": -25.2, "d": 2.0}, {"e": -25.22, "d": 14.0}, {"e": -25.25, "d": 7.0}, {"e": -25.27, "d": 17.0}, {"e": -25.3, "d": 3.0}, {"e": -25.33, "d": 12.0}, {"e": -25.36, "d": 5.0}, {"e": -25.39, "d": 9.9}, {"e": -25.42, "d": 2.0}, {"e": -25.45, "d": 8.0}, {"e": -25.48, "d": 4.0}, {"e": -25.52, "d": 9.1}, {"e": -25.55, "d": 1.5}, {"e": -25.58, "d": 6.0}, {"e": -25.61, "d": 3.0}, {"e": -25.64, "d": 5.6}, {"e": -25.68, "d": 1.5}, {"e": -25.72, "d": 6.0}, {"e": -25.77, "d": 5.6}, {"e": -25.8, "d": 1.0}, {"e": -25.84, "d": 4.0}, {"e": -25.89, "d": 2.0}, {"e": -25.94, "d": 4.9}, {"e": -26.0, "d": 2.0}, {"e": -26.05, "d": 3.5}, {"e": -26.1, "d": 2.7}, {"e": -26.16, "d": 1.0}, {"e": -26.23, "d": 0.1}, {"e": -26.3, "d": 0}, {"e": -28, "d": 0}
    ],
    "bi8mo10w2o48": [
      {"e": 1.97, "d": 0.7}, {"e": 1.85, "d": 0.5}, {"e": 1.72, "d": 0.3}, {"e": 1.66, "d": 2.0}, {"e": 1.65, "d": 8.3}, {"e": 1.62, "d": 3.0}, {"e": 1.56, "d": 0.3}, {"e": 1.48, "d": 0.3}, {"e": 1.42, "d": 2.0}, {"e": 1.35, "d": 3.0}, {"e": 1.27, "d": 5.0}, {"e": 1.23, "d": 2.0}, {"e": 1.19, "d": 1.3}, {"e": 1.14, "d": 4.0}, {"e": 1.08, "d": 6.0}, {"e": 1.01, "d": 7.7}, {"e": 0.97, "d": 4.0}, {"e": 0.93, "d": 2.7}, {"e": 0.88, "d": 6.0}, {"e": 0.84, "d": 8.0}, {"e": 0.79, "d": 5.0}, {"e": 0.76, "d": 9.0}, {"e": 0.72, "d": 10.7}, {"e": 0.68, "d": 5.0}, {"e": 0.64, "d": 3.5}, {"e": 0.6, "d": 7.0}, {"e": 0.55, "d": 5.0}, {"e": 0.5, "d": 8.5}, {"e": 0.46, "d": 6.0}, {"e": 0.43, "d": 10.3}, {"e": 0.39, "d": 4.5}, {"e": 0.35, "d": 2.3}, {"e": 0.31, "d": 7.0}, {"e": 0.26, "d": 9.7}, {"e": 0.22, "d": 5.0}, {"e": 0.18, "d": 6.5}, {"e": 0.13, "d": 4.0}, {"e": 0.08, "d": 7.0}, {"e": 0.04, "d": 5.5}, {"e": 0.01, "d": 8.7}, {"e": -0.04, "d": 3.0}, {"e": -0.08, "d": 1.0}, {"e": -0.14, "d": 9.3}, {"e": -0.18, "d": 4.0}, {"e": -0.22, "d": 6.5}, {"e": -0.25, "d": 3.0}, {"e": -0.29, "d": 10.7}, {"e": -0.33, "d": 1.3}, {"e": -0.38, "d": 7.0}, {"e": -0.42, "d": 5.0}, {"e": -0.46, "d": 8.5}, {"e": -0.5, "d": 3.3}, {"e": -0.54, "d": 7.5}, {"e": -0.58, "d": 9.0}, {"e": -0.63, "d": 4.5}, {"e": -0.67, "d": 6.0}, {"e": -0.71, "d": 3.7}, {"e": -0.77, "d": 6.0}, {"e": -0.83, "d": 7.3}, {"e": -0.88, "d": 4.0}, {"e": -0.92, "d": 5.5}, {"e": -0.96, "d": 3.3}, {"e": -1.02, "d": 5.0}, {"e": -1.08, "d": 4.0}, {"e": -1.13, "d": 6.0}, {"e": -1.2, "d": 3.0}, {"e": -1.25, "d": 4.5}, {"e": -1.3, "d": 2.3}, {"e": -1.36, "d": 4.0}, {"e": -1.42, "d": 5.0}, {"e": -1.48, "d": 2.0}, {"e": -1.55, "d": 0.7}, {"e": -1.6, "d": 2.5}, {"e": -1.67, "d": 4.3}, {"e": -1.72, "d": 2.0}, {"e": -1.78, "d": 3.0}, {"e": -1.83, "d": 1.5}, {"e": -1.88, "d": 0.7}, {"e": -1.93, "d": 3.5}, {"e": -1.98, "d": 2.0}, {"e": -2.02, "d": 0.5}, {"e": -2.05, "d": 10.3}, {"e": -2.1, "d": 4.0}, {"e": -2.15, "d": 6.0}, {"e": -2.22, "d": 2.0}, {"e": -2.26, "d": 5.0}, {"e": -2.3, "d": 9.0}, {"e": -2.35, "d": 4.0}, {"e": -2.4, "d": 6.5}, {"e": -2.47, "d": 3.0}, {"e": -2.52, "d": 4.0}, {"e": -2.56, "d": 2.0}, {"e": -2.6, "d": 0.7}, {"e": -2.65, "d": 3.0}, {"e": -2.72, "d": 12.0}, {"e": -2.76, "d": 5.3}, {"e": -2.8, "d": 7.0}, {"e": -2.85, "d": 4.0}, {"e": -2.89, "d": 3.5}, {"e": -2.94, "d": 6.0}, {"e": -2.98, "d": 7.0}, {"e": -3.02, "d": 9.3}, {"e": -3.07, "d": 5.0}, {"e": -3.12, "d": 6.5}, {"e": -3.16, "d": 3.0}, {"e": -3.2, "d": 4.0}, {"e": -3.24, "d": 1.7}, {"e": -3.27, "d": 21.5}, {"e": -3.3, "d": 8.0}, {"e": -3.33, "d": 12.0}, {"e": -3.36, "d": 15.0}, {"e": -3.38, "d": 6.0}, {"e": -3.4, "d": 4.3}, {"e": -3.44, "d": 10.0}, {"e": -3.48, "d": 12.7}, {"e": -3.52, "d": 6.0}, {"e": -3.57, "d": 9.0}, {"e": -3.61, "d": 5.0}, {"e": -3.65, "d": 7.0}, {"e": -3.69, "d": 3.0}, {"e": -3.73, "d": 8.0}, {"e": -3.78, "d": 10.7}, {"e": -3.82, "d": 5.0}, {"e": -3.86, "d": 2.0}, {"e": -3.9, "d": 0.2}, {"e": -4.0, "d": 0},
      {"e": -6.66, "d": 0}, {"e": -6.68, "d": 0.3}, {"e": -6.72, "d": 1.7}, {"e": -6.78, "d": 2.2}, {"e": -6.84, "d": 2.7}, {"e": -6.9, "d": 3.3}, {"e": -6.97, "d": 3.8}, {"e": -7.03, "d": 2.0}, {"e": -7.1, "d": 1.5}, {"e": -7.18, "d": 2.5}, {"e": -7.25, "d": 3.5}, {"e": -7.31, "d": 4.3}, {"e": -7.36, "d": 7.0}, {"e": -7.4, "d": 10.0}, {"e": -7.44, "d": 12.7}, {"e": -7.47, "d": 9.0}, {"e": -7.5, "d": 19.3}, {"e": -7.53, "d": 10.0}, {"e": -7.56, "d": 15.0}, {"e": -7.6, "d": 7.3}, {"e": -7.63, "d": 14.0}, {"e": -7.67, "d": 9.0}, {"e": -7.71, "d": 18.0}, {"e": -7.75, "d": 25.0}, {"e": -7.78, "d": 15.0}, {"e": -7.81, "d": 18.3}, {"e": -7.85, "d": 10.0}, {"e": -7.88, "d": 16.0}, {"e": -7.91, "d": 13.0}, {"e": -7.95, "d": 8.0}, {"e": -7.99, "d": 12.0}, {"e": -8.03, "d": 7.0}, {"e": -8.07, "d": 5.0}, {"e": -8.11, "d": 11.0}, {"e": -8.15, "d": 6.0}, {"e": -8.19, "d": 13.0}, {"e": -8.23, "d": 5.0}, {"e": -8.26, "d": 2.7}, {"e": -8.3, "d": 15.0}, {"e": -8.34, "d": 8.0}, {"e": -8.38, "d": 12.0}, {"e": -8.42, "d": 6.0}, {"e": -8.46, "d": 10.0}, {"e": -8.48, "d": 13.3}, {"e": -8.52, "d": 3.7}, {"e": -8.56, "d": 11.0}, {"e": -8.6, "d": 7.0}, {"e": -8.64, "d": 10.0}, {"e": -8.69, "d": 3.3}, {"e": -8.73, "d": 9.0}, {"e": -8.77, "d": 6.0}, {"e": -8.82, "d": 11.0}, {"e": -8.86, "d": 12.3}, {"e": -8.9, "d": 7.0}, {"e": -8.94, "d": 9.5}, {"e": -8.98, "d": 6.0}, {"e": -9.02, "d": 8.0}, {"e": -9.06, "d": 5.0}, {"e": -9.1, "d": 6.3}, {"e": -9.14, "d": 4.5}, {"e": -9.18, "d": 8.0}, {"e": -9.23, "d": 6.0}, {"e": -9.27, "d": 9.0}, {"e": -9.31, "d": 7.0}, {"e": -9.35, "d": 11.0}, {"e": -9.39, "d": 6.0}, {"e": -9.43, "d": 8.0}, {"e": -9.48, "d": 5.0}, {"e": -9.52, "d": 7.0}, {"e": -9.56, "d": 4.0}, {"e": -9.6, "d": 6.0}, {"e": -9.64, "d": 5.0}, {"e": -9.69, "d": 8.0}, {"e": -9.73, "d": 4.0}, {"e": -9.77, "d": 6.5}, {"e": -9.81, "d": 4.5}, {"e": -9.86, "d": 3.0}, {"e": -9.9, "d": 8.0}, {"e": -9.94, "d": 5.0}, {"e": -9.98, "d": 10.0}, {"e": -10.01, "d": 6.0}, {"e": -10.04, "d": 13.0}, {"e": -10.08, "d": 7.0}, {"e": -10.12, "d": 3.0}, {"e": -10.16, "d": 9.0}, {"e": -10.2, "d": 6.0}, {"e": -10.24, "d": 11.0}, {"e": -10.28, "d": 7.0}, {"e": -10.32, "d": 13.0}, {"e": -10.36, "d": 8.0}, {"e": -10.39, "d": 12.0}, {"e": -10.42, "d": 16.7}, {"e": -10.46, "d": 9.0}, {"e": -10.5, "d": 12.0}, {"e": -10.54, "d": 7.0}, {"e": -10.58, "d": 11.0}, {"e": -10.62, "d": 8.0}, {"e": -10.66, "d": 13.0}, {"e": -10.7, "d": 7.0}, {"e": -10.75, "d": 10.0}, {"e": -10.8, "d": 15.7}, {"e": -10.84, "d": 8.0}, {"e": -10.88, "d": 10.0}, {"e": -10.92, "d": 6.0}, {"e": -10.97, "d": 4.3}, {"e": -11.01, "d": 9.0}, {"e": -11.05, "d": 7.0}, {"e": -11.1, "d": 13.3}, {"e": -11.14, "d": 7.0}, {"e": -11.18, "d": 10.0}, {"e": -11.22, "d": 6.0}, {"e": -11.26, "d": 9.0}, {"e": -11.3, "d": 3.7}, {"e": -11.34, "d": 8.0}, {"e": -11.38, "d": 11.0}, {"e": -11.42, "d": 7.0}, {"e": -11.46, "d": 10.0}, {"e": -11.51, "d": 13.0}, {"e": -11.55, "d": 7.0}, {"e": -11.59, "d": 9.5}, {"e": -11.63, "d": 6.0}, {"e": -11.68, "d": 8.0}, {"e": -11.72, "d": 5.0}, {"e": -11.76, "d": 7.0}, {"e": -11.81, "d": 4.0}, {"e": -11.85, "d": 7.5}, {"e": -11.9, "d": 6.0}, {"e": -11.94, "d": 8.0}, {"e": -11.98, "d": 9.0}, {"e": -12.02, "d": 6.0}, {"e": -12.06, "d": 7.5}, {"e": -12.1, "d": 5.0}, {"e": -12.14, "d": 6.5}, {"e": -12.18, "d": 3.5}, {"e": -12.22, "d": 2.0}, {"e": -12.27, "d": 1.3}, {"e": -12.35, "d": 0.5}, {"e": -12.48, "d": 0},
      {"e": -15.3, "d": 0}, {"e": -15.36, "d": 1.5}, {"e": -15.42, "d": 3.5}, {"e": -15.49, "d": 9.8}, {"e": -15.54, "d": 5.0}, {"e": -15.6, "d": 3.0}, {"e": -15.66, "d": 2.0}, {"e": -15.72, "d": 0.8}, {"e": -15.8, "d": 1.0}, {"e": -15.88, "d": 2.5}, {"e": -15.96, "d": 4.0}, {"e": -16.04, "d": 5.0}, {"e": -16.12, "d": 8.0}, {"e": -16.17, "d": 4.0}, {"e": -16.24, "d": 1.0}, {"e": -16.32, "d": 0},
      {"e": -24.62, "d": 0}, {"e": -24.64, "d": 12.0}, {"e": -24.66, "d": 3.0}, {"e": -24.69, "d": 24.5}, {"e": -24.71, "d": 8.0}, {"e": -24.73, "d": 24.5}, {"e": -24.75, "d": 5.0}, {"e": -24.77, "d": 24.5}, {"e": -24.79, "d": 12.0}, {"e": -24.81, "d": 24.5}, {"e": -24.83, "d": 6.0}, {"e": -24.85, "d": 24.5}, {"e": -24.87, "d": 15.0}, {"e": -24.89, "d": 24.5}, {"e": -24.91, "d": 8.0}, {"e": -24.93, "d": 24.5}, {"e": -24.95, "d": 14.0}, {"e": -24.97, "d": 24.5}, {"e": -24.99, "d": 10.0}, {"e": -25.01, "d": 24.5}, {"e": -25.03, "d": 16.0}, {"e": -25.05, "d": 22.0}, {"e": -25.07, "d": 6.0}, {"e": -25.1, "d": 20.0}, {"e": -25.12, "d": 12.0}, {"e": -25.14, "d": 20.0}, {"e": -25.16, "d": 4.0}, {"e": -25.18, "d": 16.0}, {"e": -25.2, "d": 9.0}, {"e": -25.22, "d": 19.4}, {"e": -25.25, "d": 5.0}, {"e": -25.28, "d": 14.4}, {"e": -25.31, "d": 3.0}, {"e": -25.34, "d": 12.0}, {"e": -25.37, "d": 6.0}, {"e": -25.4, "d": 10.1}, {"e": -25.43, "d": 2.5}, {"e": -25.46, "d": 8.0}, {"e": -25.5, "d": 3.0}, {"e": -25.55, "d": 4.4}, {"e": -25.6, "d": 2.0}, {"e": -25.64, "d": 12.3}, {"e": -25.68, "d": 2.0}, {"e": -25.73, "d": 6.0}, {"e": -25.77, "d": 1.5}, {"e": -25.82, "d": 4.5}, {"e": -25.87, "d": 1.0}, {"e": -25.91, "d": 5.1}, {"e": -25.96, "d": 1.5}, {"e": -26.02, "d": 4.4}, {"e": -26.08, "d": 1.0}, {"e": -26.14, "d": 4.0}, {"e": -26.2, "d": 0.9}, {"e": -26.26, "d": 2.0}, {"e": -26.32, "d": 0.2}, {"e": -26.4, "d": 0}, {"e": -28, "d": 0}
    ]
  },
  "resolve": {"scale": {"x": "independent"}, "axis": {"x": "independent", "y": "independent"}},
  "layer": [
    {
      "data": {"name": "bi8v8o32"},
      "mark": {"type": "line", "color": "#7f3fbf", "strokeWidth": 2},
      "encoding": {
        "x": {"field": "d", "type": "quantitative", "scale": {"domain": [0, 110.8], "nice": false, "zero": false}, "axis": null},
        "y": {
          "field": "e", "type": "quantitative",
          "scale": {"domain": [-28, 2], "nice": false, "zero": false},
          "axis": {
            "title": "Energy [eV]", "values": [2, 0, -2, -4, -6, -8, -10, -12, -14, -16, -18, -20, -22, -24, -26, -28],
            "labelExpr": "'' + datum.value", "grid": false, "orient": "left",
            "domainColor": "#8c8c8c", "domainWidth": 1.5, "tickColor": "#8c8c8c", "tickSize": 5,
            "labelFont": "Liberation Sans", "labelFontSize": 15, "labelColor": "#404040", "labelPadding": 10,
            "titleFont": "Liberation Sans", "titleFontSize": 26, "titleFontWeight": "normal", "titleColor": "#000000",
            "titleX": -69, "titleY": 545, "titleAngle": -90, "titleBaseline": "middle", "titleAlign": "center"
          }
        },
        "order": {"field": "e", "type": "quantitative", "sort": "descending"}
      }
    },
    {
      "layer": [
        {
          "data": {"values": [{}]},
          "mark": {"type": "rule", "color": "#128a12", "strokeWidth": 1, "opacity": 0.5, "strokeDash": [2, 2]},
          "encoding": {"x": {"datum": 0, "axis": null}, "y": {"datum": 2, "axis": null}, "y2": {"datum": -28}}
        },
        {
          "data": {"name": "bi7v5mo3o32"},
          "mark": {"type": "line", "color": "#128a12", "strokeWidth": 2.3},
          "encoding": {
            "x": {"field": "d", "type": "quantitative", "scale": {"domain": [-21.93, 88.87], "nice": false, "zero": false}, "axis": null},
            "y": {"field": "e", "type": "quantitative", "axis": null},
            "order": {"field": "e", "type": "quantitative", "sort": "descending"}
          }
        }
      ]
    },
    {
      "layer": [
        {
          "data": {"values": [{}]},
          "mark": {"type": "rule", "color": "#f79646", "strokeWidth": 1, "opacity": 0.5},
          "encoding": {"x": {"datum": 0, "axis": null}, "y": {"datum": 2, "axis": null}, "y2": {"datum": -28}}
        },
        {
          "data": {"name": "bi12fe4mo8o48"},
          "mark": {"type": "line", "color": "#f79646", "strokeWidth": 2.2},
          "encoding": {
            "x": {"field": "d", "type": "quantitative", "scale": {"domain": [-43.35, 67.45], "nice": false, "zero": false}, "axis": null},
            "y": {"field": "e", "type": "quantitative", "axis": null},
            "order": {"field": "e", "type": "quantitative", "sort": "descending"}
          }
        }
      ]
    },
    {
      "layer": [
        {
          "data": {"values": [{}]},
          "mark": {"type": "rule", "color": "#ff0000", "strokeWidth": 1, "opacity": 0.5, "strokeDash": [2, 2]},
          "encoding": {"x": {"datum": 0, "axis": null}, "y": {"datum": 2, "axis": null}, "y2": {"datum": -28}}
        },
        {
          "data": {"name": "bi8mo12o48"},
          "mark": {"type": "line", "color": "#ff0000", "strokeWidth": 2.4},
          "encoding": {
            "x": {"field": "d", "type": "quantitative", "scale": {"domain": [-65.0, 45.8], "nice": false, "zero": false}, "axis": null},
            "y": {"field": "e", "type": "quantitative", "axis": null},
            "order": {"field": "e", "type": "quantitative", "sort": "descending"}
          }
        }
      ]
    },
    {
      "layer": [
        {
          "data": {"values": [{}]},
          "mark": {"type": "rule", "color": "#ff3399", "strokeWidth": 1, "opacity": 0.6},
          "encoding": {"x": {"datum": 0, "axis": null}, "y": {"datum": 2, "axis": null}, "y2": {"datum": -28}}
        },
        {
          "data": {"name": "bi8mo10w2o48"},
          "mark": {"type": "line", "color": "#ff3399", "strokeWidth": 2.1},
          "encoding": {
            "x": {"field": "d", "type": "quantitative", "scale": {"domain": [-86.77, 24.03], "nice": false, "zero": false}, "axis": null},
            "y": {"field": "e", "type": "quantitative", "axis": null},
            "order": {"field": "e", "type": "quantitative", "sort": "descending"}
          }
        }
      ]
    },
    {
      "data": {"values": [{}]},
      "resolve": {"axis": {"x": "independent", "y": "independent"}},
      "layer": [
        {
          "mark": {"type": "rule", "color": "#808080", "strokeWidth": 3},
          "encoding": {
            "x": {
              "datum": 0, "type": "quantitative",
              "scale": {"domain": [0, 110.8], "nice": false, "zero": false},
              "axis": {
                "title": "Density of States", "labels": false, "ticks": false, "domain": false, "grid": false, "orient": "bottom",
                "titleFont": "Liberation Sans", "titleFontSize": 26, "titleFontWeight": "normal", "titleColor": "#000000",
                "titleX": 538, "titleY": 14, "titleBaseline": "middle", "titleAlign": "center"
              }
            },
            "x2": {"datum": 110.8},
            "y": {"datum": 0, "axis": null}
          }
        },
        {
          "mark": {"type": "rect", "color": "white"},
          "encoding": {
            "x": {"datum": 102.9, "axis": null}, "x2": {"datum": 107.7},
            "y": {"datum": 1.45, "axis": null}, "y2": {"datum": -3.75}
          }
        },
        {
          "mark": {"type": "rule", "color": "black", "strokeWidth": 3.5},
          "encoding": {
            "x": {"datum": 88.2, "axis": null},
            "y": {"datum": -4.25, "axis": null}, "y2": {"datum": -6.3}
          }
        },
        {
          "mark": {"type": "point", "shape": "triangle-up", "filled": true, "color": "black", "size": 190, "opacity": 1},
          "encoding": {"x": {"datum": 88.2, "axis": null}, "y": {"datum": -4.18, "axis": null}}
        },
        {
          "mark": {"type": "point", "shape": "triangle-down", "filled": true, "color": "black", "size": 190, "opacity": 1},
          "encoding": {"x": {"datum": 88.2, "axis": null}, "y": {"datum": -6.4, "axis": null}}
        },
        {
          "mark": {"type": "text", "fontSize": 25, "color": "#222222", "align": "center", "baseline": "middle"},
          "encoding": {"x": {"datum": 55.8, "axis": null}, "y": {"datum": 0.58, "axis": null}, "text": {"value": "Vacuum level"}}
        },
        {
          "mark": {"type": "text", "fontSize": 25, "color": "#111111", "align": "center", "baseline": "middle"},
          "encoding": {"x": {"datum": 95.2, "axis": null}, "y": {"datum": -5.25, "axis": null}, "text": {"value": "band gap"}}
        },
        {
          "mark": {"type": "text", "fontSize": 25, "color": "#111111", "align": "center", "baseline": "middle", "angle": 90},
          "encoding": {"x": {"datum": 105.1, "axis": null}, "y": {"datum": -1.085, "axis": null}, "text": {"value": "conduction band"}}
        },
        {
          "mark": {"type": "text", "fontSize": 25, "color": "#111111", "align": "center", "baseline": "middle", "angle": 90},
          "encoding": {"x": {"datum": 105.1, "axis": null}, "y": {"datum": -10.37, "axis": null}, "text": {"value": "valence band"}}
        },
        {
          "mark": {"type": "text", "fontSize": 25, "color": "#111111", "align": "center", "baseline": "middle"},
          "encoding": {"x": {"datum": 102.8, "axis": null}, "y": {"datum": -15.8, "axis": null}, "text": {"value": "Bi 6s"}}
        },
        {
          "mark": {"type": "text", "fontSize": 25, "color": "#111111", "align": "center", "baseline": "middle"},
          "encoding": {"x": {"datum": 104.4, "axis": null}, "y": {"datum": -23.82, "axis": null}, "text": {"value": "O 2s"}}
        },
        {
          "mark": {"type": "text", "fontSize": 25, "color": "#8e55cc", "align": "center", "baseline": "middle", "dy": -13},
          "encoding": {"x": {"datum": 9.9, "axis": null}, "y": {"datum": 2, "axis": null}, "text": {"value": "Bi₈V₈O₃₂"}}
        },
        {
          "mark": {"type": "text", "fontSize": 25, "color": "#128a12", "align": "center", "baseline": "middle", "dy": -13},
          "encoding": {"x": {"datum": 31.8, "axis": null}, "y": {"datum": 2, "axis": null}, "text": {"value": "Bi₇V₅Mo₃O₃₂"}}
        },
        {
          "mark": {"type": "text", "fontSize": 25, "color": "#f79646", "align": "center", "baseline": "middle", "dy": -13},
          "encoding": {"x": {"datum": 53.8, "axis": null}, "y": {"datum": 2, "axis": null}, "text": {"value": "Bi₁₂Fe₄Mo₈O₄₈"}}
        },
        {
          "mark": {"type": "text", "fontSize": 25, "color": "#ff0000", "align": "center", "baseline": "middle", "dy": -13},
          "encoding": {"x": {"datum": 74.8, "axis": null}, "y": {"datum": 2, "axis": null}, "text": {"value": "Bi₈Mo₁₂O₄₈"}}
        },
        {
          "mark": {"type": "text", "fontSize": 25, "color": "#ff3399", "align": "center", "baseline": "middle", "dy": -13},
          "encoding": {"x": {"datum": 98.1, "axis": null}, "y": {"datum": 2, "axis": null}, "text": {"value": "Bi₈Mo₁₀W₂O₄₈"}}
        }
      ]
    }
  ]
}
